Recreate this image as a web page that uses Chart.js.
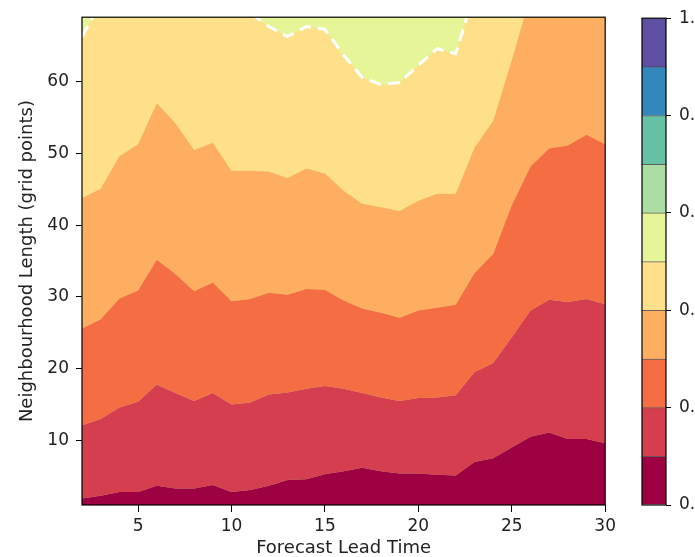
<!DOCTYPE html>
<html>
<head>
<meta charset="utf-8">
<script src="https://cdn.jsdelivr.net/npm/chart.js@4.4.1/dist/chart.umd.min.js"></script>
<style>
  body { margin: 0; background: #fff; }
  #wrap { position: relative; width: 695px; height: 557px; overflow: hidden; }
  canvas { position: absolute; top: 0; }
</style>
</head>
<body>
<div id="wrap">
  <canvas id="fss" width="620" height="557" style="left:0"></canvas>
  <canvas id="cbar" width="75" height="557" style="left:620px"></canvas>
</div>
<script>
// lead times on the x axis
var leadTimes = [2, 3, 4, 5, 6, 7, 8, 9, 10, 11, 12, 13, 14, 15, 16, 17, 18, 19, 20, 21, 22, 23, 24, 25, 26, 27, 28, 29, 30];

// neighbourhood length where the FSS crosses each contour level
var fss01 = [1.9, 2.3, 2.8, 2.8, 3.7, 3.3, 3.3, 3.8, 2.8, 3.1, 3.7, 4.5, 4.6, 5.3, 5.7, 6.2, 5.7, 5.4, 5.4, 5.2, 5.1, 7.0, 7.5, 9.0, 10.5, 11.1, 10.2, 10.2, 9.6];
var fss02 = [12.1, 13.0, 14.6, 15.4, 17.8, 16.6, 15.5, 16.6, 15.0, 15.3, 16.4, 16.7, 17.2, 17.6, 17.2, 16.6, 16.0, 15.5, 15.9, 16.0, 16.3, 19.5, 20.8, 24.4, 28.1, 29.6, 29.3, 29.7, 29.0];
var fss03 = [25.6, 26.9, 29.8, 30.9, 35.2, 33.2, 30.8, 32.0, 29.4, 29.7, 30.6, 30.3, 31.1, 31.0, 29.5, 28.4, 27.8, 27.1, 28.1, 28.5, 28.9, 33.3, 36.0, 42.8, 48.2, 50.7, 51.1, 52.6, 51.3];
var fss04 = [43.8, 45.1, 49.6, 51.3, 57.0, 54.2, 50.5, 51.5, 47.6, 47.6, 47.5, 46.6, 47.9, 47.2, 44.8, 43.0, 42.5, 42.0, 43.4, 44.4, 44.4, 50.8, 54.5, 63.0, 72.0, 75.0, 77.0, 79.0, 80.0];
var fss05 = [66.3, 71.0, 74.0, 76.0, 78.0, 77.0, 75.0, 74.0, 72.0, 69.6, 67.7, 66.3, 67.7, 67.3, 63.7, 60.6, 59.6, 59.9, 62.3, 64.6, 63.9, 72.4, 78.0, 84.0, 88.0, 90.0, 92.0, 94.0, 95.0];

var contourLevels = [0.0, 0.1, 0.2, 0.3, 0.4, 0.5, 0.6, 0.7, 0.8, 0.9, 1.0];
var bandColors = ["#9e0142", "#d53e4f", "#f46d43", "#fdae61", "#fee08b", "#e6f598", "#abdda4", "#66c2a5", "#3288bd", "#5e4fa2"];

var xTicks = [5, 10, 15, 20, 25, 30];
var yTicks = [10, 20, 30, 40, 50, 60];
var cbarTicks = [0.0, 0.2, 0.4, 0.6, 0.8, 1.0];

Chart.defaults.font.family = "DejaVu Sans";
Chart.defaults.font.size = 17;
Chart.defaults.color = "#222";

// black box round the plot area
var frame = {
    id: "frame",
    afterDraw: function (chart) {
        var a = chart.chartArea;
        var ctx = chart.ctx;
        ctx.save();
        ctx.strokeStyle = "#000";
        ctx.lineWidth = 1.2;
        ctx.strokeRect(a.left, a.top, a.right - a.left, a.bottom - a.top);
        ctx.restore();
    },
};

// the band above the 0.5 contour fills whatever the lower bands leave
var topBand = {
    id: "topBand",
    beforeDraw: function (chart) {
        var a = chart.chartArea;
        chart.ctx.save();
        chart.ctx.fillStyle = bandColors[5];
        chart.ctx.fillRect(a.left, a.top, a.right - a.left, a.bottom - a.top);
        chart.ctx.restore();
    },
};

function contour(values, band, fill) {
    return {
        data: leadTimes.map(function (t, i) { return { x: t, y: values[i] }; }),
        backgroundColor: bandColors[band],
        borderWidth: 0,
        pointRadius: 0,
        tension: 0,
        fill: fill,
    };
}

var datasets = [
    contour(fss01, 0, "start"),
    contour(fss02, 1, "-1"),
    contour(fss03, 2, "-1"),
    contour(fss04, 3, "-1"),
    contour(fss05, 4, "-1"),
];
// FSS = 0.5 drawn as a dashed white line
datasets[4].borderColor = "#fff";
datasets[4].borderWidth = 3;
datasets[4].borderDash = [12, 7];

var fssChart = new Chart(document.getElementById("fss"), {
    type: "line",
    data: { datasets: datasets },
    options: {
        responsive: false,
        animation: false,
        layout: { padding: { top: 15, right: 12 } },
        plugins: {
            legend: { display: false },
            tooltip: { enabled: false },
            filler: { drawTime: "beforeDatasetsDraw" },
        },
        scales: {
            x: {
                type: "linear",
                min: 2,
                max: 30,
                afterBuildTicks: function (scale) { scale.ticks = xTicks.map(function (v) { return { value: v }; }); },
                afterFit: function (scale) { scale.height = 52; },
                grid: { drawOnChartArea: false, tickLength: 7, color: "#000" },
                border: { display: false },
                ticks: { padding: 4, maxRotation: 0 },
                title: {
                    display: true,
                    text: "Forecast Lead Time",
                    font: { size: 18, lineHeight: 1 },
                    padding: { top: 0, bottom: 0 },
                },
            },
            y: {
                type: "linear",
                min: 1,
                max: 69,
                afterBuildTicks: function (scale) { scale.ticks = yTicks.map(function (v) { return { value: v }; }); },
                afterFit: function (scale) { scale.width = 82; },
                grid: { drawOnChartArea: false, tickLength: 6, color: "#000" },
                border: { display: false },
                ticks: { padding: 7 },
                title: {
                    display: true,
                    text: "Neighbourhood Length (grid points)",
                    font: { size: 18, lineHeight: 1 },
                    padding: { top: 18, bottom: 0 },
                },
            },
        },
    },
    plugins: [topBand, frame],
});

// colour bar: one floating bar per contour band
var cbarChart = new Chart(document.getElementById("cbar"), {
    type: "bar",
    data: {
        labels: [""],
        datasets: bandColors.map(function (c, i) {
            return {
                data: [[contourLevels[i], contourLevels[i + 1]]],
                backgroundColor: c,
                borderColor: "rgba(40,30,30,0.7)",
                borderWidth: { top: 1, bottom: 0, left: 0, right: 0 },
                borderSkipped: false,
                grouped: false,
                barPercentage: 1,
                categoryPercentage: 1,
            };
        }),
    },
    options: {
        responsive: false,
        animation: false,
        layout: { padding: { top: 15, bottom: 52, left: 22 } },
        plugins: { legend: { display: false }, tooltip: { enabled: false } },
        scales: {
            x: { display: false },
            y: {
                position: "right",
                min: 0,
                max: 1,
                afterBuildTicks: function (scale) { scale.ticks = cbarTicks.map(function (v) { return { value: v }; }); },
                afterFit: function (scale) { scale.width = 29; },
                grid: { drawOnChartArea: false, tickLength: 5, color: "#000" },
                border: { display: false },
                ticks: {
                    padding: 8,
                    callback: function (v) { return v.toFixed(1); },
                },
            },
        },
    },
    plugins: [frame],
});
</script>
</body>
</html>
